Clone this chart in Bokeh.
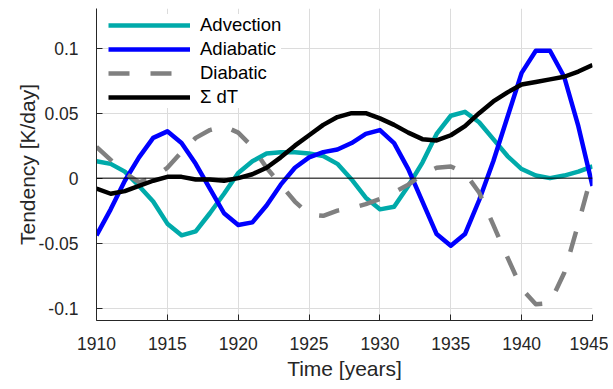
from bokeh.plotting import figure
from bokeh.models import Range1d, FixedTicker, Span, CustomJSTickFormatter
from bokeh.embed import file_html
from bokeh.resources import INLINE

years = list(range(1910, 1946))
advection = [0.013, 0.011, 0.005, -0.006, -0.018, -0.035, -0.044, -0.041, -0.027, -0.012,
             0.004, 0.013, 0.019, 0.020, 0.020, 0.019, 0.017, 0.011, -0.001, -0.015,
             -0.024, -0.022, -0.006, 0.012, 0.034, 0.048, 0.051, 0.043, 0.030, 0.017,
             0.007, 0.002, 0.000, 0.002, 0.005, 0.009]
adiabatic = [-0.044, -0.024, -0.002, 0.016, 0.031, 0.036, 0.027, 0.011, -0.008, -0.027,
             -0.036, -0.034, -0.021, -0.005, 0.008, 0.016, 0.020, 0.022, 0.027, 0.034,
             0.037, 0.027, 0.007, -0.018, -0.043, -0.052, -0.043, -0.017, 0.013, 0.047,
             0.081, 0.098, 0.098, 0.078, 0.040, -0.006]
diabatic = [0.024, 0.014, 0.004, -0.003, 0.000, 0.008, 0.020, 0.031, 0.037, 0.040,
            0.035, 0.024, 0.008, -0.005, -0.018, -0.028, -0.029, -0.025, -0.023, -0.020,
            -0.016, -0.011, -0.005, 0.003, 0.008, 0.009, 0.004, -0.011, -0.036, -0.061,
            -0.085, -0.097, -0.096, -0.073, -0.035, 0.005]
sum_dT = [-0.008, -0.012, -0.010, -0.006, -0.002, 0.001, 0.001, -0.001, -0.001, -0.002,
          0.000, 0.003, 0.008, 0.016, 0.025, 0.033, 0.041, 0.047, 0.050, 0.050,
          0.046, 0.041, 0.035, 0.030, 0.029, 0.033, 0.040, 0.050, 0.059, 0.066,
          0.072, 0.074, 0.076, 0.078, 0.082, 0.087]

x_ticks = [1910, 1915, 1920, 1925, 1930, 1935, 1940, 1945]
y_ticks = [-0.1, -0.05, 0, 0.05, 0.1]

FONT = "Liberation Sans"
TXT = "#262626"

p = figure(width=608, height=382, output_backend="svg", toolbar_location=None,
           x_range=Range1d(1910, 1945), y_range=Range1d(-0.1095, 0.1305),
           min_border_left=96, min_border_right=16, min_border_top=8, min_border_bottom=60)

p.outline_line_color = None
p.background_fill_color = "white"

p.add_layout(Span(location=0, dimension="width", line_color="black", line_width=1))

p.line(years, advection, line_color="#00AAAA", line_width=4.5, line_join="round",
       legend_label="Advection")
p.line(years, adiabatic, line_color="#0000FF", line_width=4.5, line_join="round",
       legend_label="Adiabatic")
p.line(years, diabatic, line_color="#808080", line_width=4.5, line_dash="21 21",
       line_join="round", legend_label="Diabatic")
p.line(years, sum_dT, line_color="black", line_width=4.5, line_join="round",
       legend_label="\u03a3 dT")

p.xaxis.ticker = FixedTicker(ticks=x_ticks)
p.yaxis.ticker = FixedTicker(ticks=y_ticks)
p.yaxis.formatter = CustomJSTickFormatter(code="return String(tick);")
p.xgrid.ticker = FixedTicker(ticks=x_ticks)
p.ygrid.ticker = FixedTicker(ticks=y_ticks)
for g in (p.xgrid, p.ygrid):
    g.grid_line_color = "#dcdcdc"
    g.grid_line_width = 1

for ax in (p.xaxis, p.yaxis):
    ax.axis_line_color = TXT
    ax.major_tick_line_color = TXT
    ax.major_tick_in = 6
    ax.major_tick_out = 0
    ax.minor_tick_line_color = None
    ax.major_label_text_font = FONT
    ax.major_label_text_font_size = "17.5px"
    ax.major_label_text_color = TXT
    ax.axis_label_text_font = FONT
    ax.axis_label_text_font_size = "21px"
    ax.axis_label_text_font_style = "normal"
    ax.axis_label_text_color = TXT

p.xaxis.axis_label = "Time [years]"
p.yaxis.axis_label = "Tendency [K/day]"
p.xaxis.major_label_standoff = 16
p.yaxis.major_label_standoff = 18
p.xaxis.axis_label_standoff = 4
p.yaxis.axis_label_standoff = -3

lg = p.legend[0]
lg.location = (12, 212)
lg.border_line_color = None
lg.background_fill_color = "white"
lg.background_fill_alpha = 1
lg.padding = 4
lg.margin = 0
lg.spacing = 2
lg.glyph_width = 82
lg.glyph_height = 22
lg.label_height = 22
lg.label_standoff = 10
lg.label_text_font = FONT
lg.label_text_font_size = "18.5px"
lg.label_text_color = "black"

open("out.html", "w").write(file_html(p, INLINE))
